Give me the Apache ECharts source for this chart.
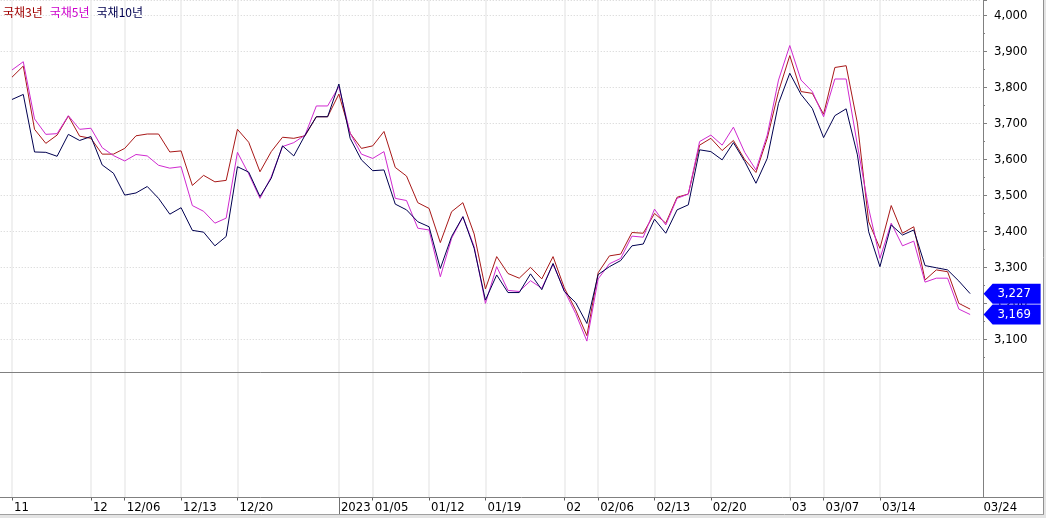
<!DOCTYPE html>
<html>
<head>
<meta charset="utf-8">
<script src="https://cdn.jsdelivr.net/npm/echarts@6/dist/echarts.min.js"></script>
<style>
html,body{margin:0;padding:0;background:#fff;}
#chart{width:1046px;height:518px;}
</style>
</head>
<body>
<div id="chart"></div>
<script>
const seriesNames = ['국채3년', '국채5년', '국채10년'];
const dates = [
 '11/22','11/23','11/24','11/25','11/28','11/29','11/30',
 '12/01','12/02','12/05','12/06','12/07','12/08','12/09','12/12','12/13','12/14','12/15','12/16','12/19','12/20','12/21','12/22','12/23','12/26','12/27','12/28','12/29','12/30',
 '01/02','01/03','01/04','01/05','01/06','01/09','01/10','01/11','01/12','01/13','01/16','01/17','01/18','01/19','01/20','01/25','01/26','01/27','01/30','01/31',
 '02/01','02/02','02/03','02/06','02/07','02/08','02/09','02/10','02/13','02/14','02/15','02/16','02/17','02/20','02/21','02/22','02/23','02/24','02/27','02/28',
 '03/02','03/03','03/06','03/07','03/08','03/09','03/10','03/13','03/14','03/15','03/16','03/17','03/20','03/21','03/22','03/23','03/24'
];
const bond3 = [3829,3860,3684,3645,3668,3721,3665,3659,3615,3615,
 3631,3666,3671,3671,3621,3624,3528,3556,3538,3542,
 3684,3648,3566,3622,3662,3659,3666,3719,3719,3782,
 3673,3631,3638,3678,3578,3554,3480,3464,3369,3455,
 3480,3393,3240,3330,3283,3270,3300,3268,3330,3243,
 3182,3110,3285,3332,3337,3397,3395,3450,3423,3495,
 3504,3640,3659,3625,3653,3600,3564,3659,3789,3889,
 3789,3784,3726,3856,3861,3701,3427,3353,3472,3395,
 3413,3265,3293,3288,3200,3184];
const bond5 = [3849,3872,3713,3670,3672,3722,3684,3687,3633,3611,
 3596,3614,3610,3584,3576,3580,3472,3456,3423,3437,
 3620,3560,3492,3552,3636,3647,3668,3749,3749,3803,
 3673,3615,3603,3622,3492,3486,3409,3404,3274,3381,
 3441,3358,3200,3302,3236,3233,3263,3242,3309,3236,
 3172,3095,3268,3310,3325,3387,3384,3462,3418,3492,
 3504,3650,3668,3640,3690,3620,3571,3668,3821,3917,
 3821,3789,3719,3824,3824,3640,3464,3325,3423,3360,
 3373,3259,3270,3270,3184,3169];
const bond10 = [3767,3781,3621,3620,3609,3670,3653,3664,3585,3562,
 3501,3507,3525,3492,3448,3466,3403,3398,3360,3386,
 3580,3565,3497,3548,3638,3610,3668,3719,3719,3810,
 3659,3599,3569,3571,3476,3460,3427,3413,3297,3386,
 3441,3353,3209,3279,3230,3230,3282,3238,3311,3233,
 3202,3144,3280,3302,3319,3360,3365,3434,3395,3460,
 3474,3627,3622,3599,3647,3595,3534,3603,3756,3840,
 3781,3742,3661,3722,3741,3613,3399,3302,3418,3390,
 3404,3305,3299,3293,3262,3227];
const tickDates = ['11/22','12/01','12/06','12/13','12/20','01/02','01/05','01/12','01/19','02/01','02/06','02/13','02/20','03/02','03/07','03/14'];
const tickTexts = ['11','12','12/06','12/13','12/20','2023','01/05','01/12','01/19','02','02/06','02/13','02/20','03','03/07','03/14'];
const yearDates = ['01/02'];
const lastDate = dates[dates.length - 1];

const lineColors = ['#a81818', '#d02ad0', '#000050'];
const legendColors = ['#a00000', '#cc00cc', '#000050'];
const numFont = "'Liberation Sans Narrow','DejaVu Sans Condensed','Liberation Sans',sans-serif";

// padded category axis: one empty slot on each side
const cats = [''].concat(dates, ['']);
const pad = a => [null].concat(a, [null]);
const isTick = (i) => tickDates.indexOf(cats[i]) >= 0;
const fmt = v => String(Math.round(v)).replace(/\B(?=(\d{3})+(?!\d))/g, ',');

const gridLeft = 0.727;
const gridRight = 1046 - 981.4;

const tagSymbol = 'path://M0,10 L9,0 L57,0 L57,20 L9,20 Z';
function tag(value) {
  return {
    symbol: tagSymbol,
    symbolSize: [57, 20],
    symbolOffset: [42, 0],
    silent: true,
    data: [{ coord: [lastDate, value], value: value }],
    itemStyle: { color: '#0000ff' },
    label: {
      show: true, position: 'inside', offset: [2, 0],
      color: '#ffffff', fontSize: 13, fontFamily: numFont,
      formatter: p => fmt(p.value)
    }
  };
}

const option = {
  animation: false,
  backgroundColor: '#ffffff',
  legend: {
    left: -7, top: 1, icon: 'none', itemWidth: 0, itemHeight: 0, itemGap: 2,
    selectedMode: false,
    textStyle: { fontSize: 12, fontFamily: "'Noto Sans CJK KR',sans-serif" },
    data: seriesNames.map((n, i) => ({ name: n, textStyle: { color: legendColors[i] } }))
  },
  grid: [
    { left: gridLeft, right: gridRight, top: 0, height: 372.7 },
    { left: gridLeft, right: gridRight, top: 372.7, height: 124.8 }
  ],
  xAxis: [
    {
      type: 'category', gridIndex: 0, data: cats, boundaryGap: false,
      axisLine: { show: false }, axisTick: { show: false }, axisLabel: { show: false },
      splitLine: { show: true, interval: (i) => isTick(i), lineStyle: { color: '#ebebeb', width: 1.5 } }
    },
    {
      type: 'category', gridIndex: 1, data: cats, boundaryGap: false, position: 'bottom',
      axisLine: { show: false },
      axisTick: { show: true, interval: (i) => isTick(i), length: 3, lineStyle: { color: '#606060' } },
      axisLabel: {
        show: true, interval: (i) => isTick(i) || i === cats.length - 1,
        align: 'left', margin: 4, padding: [0, 0, 0, 2],
        color: '#000', fontSize: 13, fontFamily: numFont,
        formatter: (v, i) => {
          if (i === cats.length - 1) return lastDate;
          const k = tickDates.indexOf(v);
          return k >= 0 ? tickTexts[k] : '';
        }
      },
      splitLine: { show: true, interval: (i) => isTick(i), lineStyle: { color: '#ebebeb', width: 1.5 } }
    },
    {
      type: 'category', gridIndex: 1, data: cats, boundaryGap: false, position: 'bottom',
      axisLine: { show: false }, axisLabel: { show: false }, splitLine: { show: false },
      axisTick: { show: true, interval: (i) => yearDates.indexOf(cats[i]) >= 0, length: 18, lineStyle: { color: '#707070' } }
    }
  ],
  yAxis: [
    {
      type: 'value', gridIndex: 0, position: 'right', offset: 1.6,
      min: 3007.1, max: 4043.7, minInterval: 100, maxInterval: 100,
      axisLine: { show: true, lineStyle: { color: '#808080' } },
      axisTick: { show: true, length: 4, lineStyle: { color: '#808080' } },
      minorTick: { show: true, splitNumber: 2, length: 2, lineStyle: { color: '#808080' } },
      axisLabel: {
        show: true, margin: 11, showMinLabel: false, showMaxLabel: false,
        color: '#000', fontSize: 13, fontFamily: numFont,
        formatter: v => fmt(v)
      },
      splitLine: { show: true, lineStyle: { color: '#d2d2d2', type: [1, 2] } }
    },
    {
      type: 'value', gridIndex: 1, position: 'right', offset: 1.6,
      axisLine: { show: true, lineStyle: { color: '#808080' } },
      axisTick: { show: false }, axisLabel: { show: false }, splitLine: { show: false }
    }
  ],
  series: [
    {
      name: seriesNames[0], type: 'line', xAxisIndex: 0, yAxisIndex: 0,
      data: pad(bond3), symbol: 'none', connectNulls: false,
      lineStyle: { color: lineColors[0], width: 1 }, itemStyle: { color: lineColors[0] }, z: 3
    },
    {
      name: seriesNames[1], type: 'line', xAxisIndex: 0, yAxisIndex: 0,
      data: pad(bond5), symbol: 'none',
      lineStyle: { color: lineColors[1], width: 1 }, itemStyle: { color: lineColors[1] }, z: 4,
      markPoint: tag(bond5[bond5.length - 1])
    },
    {
      name: seriesNames[2], type: 'line', xAxisIndex: 0, yAxisIndex: 0,
      data: pad(bond10), symbol: 'none',
      lineStyle: { color: lineColors[2], width: 1 }, itemStyle: { color: lineColors[2] }, z: 5,
      markPoint: tag(bond10[bond10.length - 1])
    }
  ],
  graphic: [
    { type: 'line', silent: true, z: 10, shape: { x1: 0, y1: 372.5, x2: 1043, y2: 372.5 }, style: { stroke: '#808080', lineWidth: 1 } },
    { type: 'line', silent: true, z: 10, shape: { x1: 0, y1: 497.5, x2: 1043, y2: 497.5 }, style: { stroke: '#808080', lineWidth: 1 } },
    { type: 'line', silent: true, z: 10, shape: { x1: 1043.5, y1: 0, x2: 1043.5, y2: 515 }, style: { stroke: '#909090', lineWidth: 1 } },
    { type: 'rect', silent: true, z: 10, shape: { x: 0, y: 515, width: 1046, height: 3 }, style: { fill: '#e4e4e4', stroke: null } },
    { type: 'line', silent: true, z: 10, shape: { x1: 0, y1: 514.5, x2: 1046, y2: 514.5 }, style: { stroke: '#a0a0a0', lineWidth: 1 } },
    { type: 'rect', silent: true, z: 10, shape: { x: 1044, y: 0, width: 2, height: 518 }, style: { fill: '#e4e4e4', stroke: null } }
  ]
};

const chart = echarts.init(document.getElementById('chart'), null, { renderer: 'canvas' });
chart.setOption(option);
</script>
</body>
</html>
